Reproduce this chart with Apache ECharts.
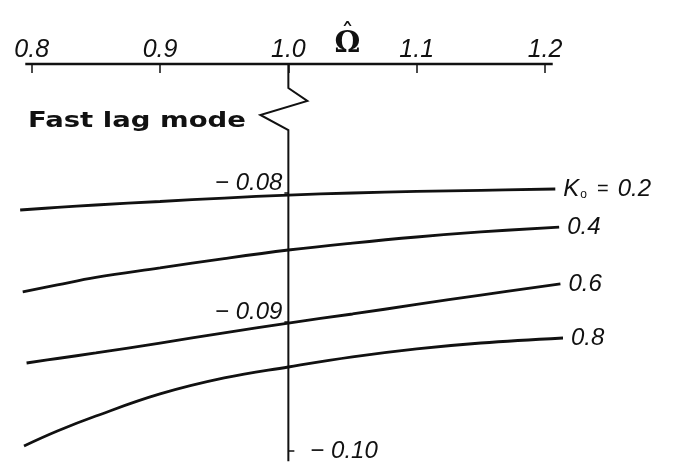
<!DOCTYPE html>
<html>
<head>
<meta charset="utf-8">
<script src="https://cdn.jsdelivr.net/npm/echarts@6/dist/echarts.min.js"></script>
<style>
  html, body { margin: 0; padding: 0; background: #fff; }
  #chart { width: 674px; height: 467px; }
</style>
</head>
<body>
<div id="chart"></div>
<script>
// Frequency ratio Ω̂ and fast lag mode damping for several K₀ values
const xTicks = [0.8, 0.9, 1.0, 1.1, 1.2];
const yTicksLeft = [-0.08, -0.09];
const yTicksRight = [-0.10];
const kLabels = ['0.2', '0.4', '0.6', '0.8'];

const omegaK02 = [0.791, 0.82, 0.85, 0.90, 0.95, 1.00, 1.05, 1.10, 1.15, 1.208];
const dampK02  = [-0.08132, -0.08112, -0.08093, -0.08066, -0.08039, -0.08016, -0.08000, -0.07988, -0.07979, -0.07969];

const omegaK04 = [0.793, 0.82, 0.85, 0.90, 0.95, 1.00, 1.05, 1.10, 1.15, 1.211];
const dampK04  = [-0.08767, -0.08713, -0.08655, -0.08581, -0.08508, -0.08442, -0.08388, -0.08341, -0.08302, -0.08264];

const omegaK06 = [0.796, 0.82, 0.85, 0.90, 0.95, 1.00, 1.05, 1.10, 1.15, 1.212];
const dampK06  = [-0.09318, -0.09283, -0.09240, -0.09163, -0.09085, -0.09008, -0.08938, -0.08864, -0.08791, -0.08705];

const omegaK08 = [0.794, 0.82, 0.85, 0.90, 0.95, 1.00, 1.05, 1.10, 1.15, 1.214];
const dampK08  = [-0.09961, -0.09845, -0.09729, -0.09558, -0.09434, -0.09349, -0.09271, -0.09209, -0.09163, -0.09124];

const curves = [
  [omegaK02, dampK02],
  [omegaK04, dampK04],
  [omegaK06, dampK06],
  [omegaK08, dampK08]
];

// plotting window is a little wider than the printed Ω̂ scale
const X_MIN = 0.785, X_MAX = 1.22, Y_MIN = -0.1008, Y_MAX = -0.07;
const SCALE_START = 0.795, SCALE_END = 1.206;
const GRID = { left: 12.45, right: 103.3, top: 64, bottom: 5.7 };
const gridWidth = 674 - GRID.left - GRID.right;
// the vertical axis sits at Ω̂ = 1.0
const yAxisOffset = -((1.0 - X_MIN) / (X_MAX - X_MIN)) * gridWidth;

const INK = '#111';
const numFont = 'Liberation Sans';
const minus = v => '\u2212 ' + Math.abs(v).toFixed(2);

const series = curves.map(([xs, ys], i) => ({
  type: 'line',
  name: kLabels[i],
  data: xs.map((x, j) => [x, ys[j]]),
  smooth: 0.4,
  showSymbol: false,
  symbol: 'none',
  silent: true,
  lineStyle: { color: INK, width: 2.8 },
  endLabel: {
    show: true,
    distance: 8,
    formatter: p => i === 0
      ? '{k|K}{o|o}{e|=}{t|' + kLabels[i] + '}'
      : '{t|' + kLabels[i] + '}',
    rich: {
      k: { fontFamily: numFont, fontStyle: 'italic', fontSize: 24, color: INK },
      o: { fontFamily: numFont, fontSize: 12, color: INK, padding: [12, 0, 0, 1] },
      e: { fontFamily: numFont, fontSize: 20, color: INK, padding: [0, 9, 0, 10] },
      t: { fontFamily: numFont, fontStyle: 'italic', fontSize: 24, color: INK }
    }
  }
}));

const chart = echarts.init(document.getElementById('chart'), null, { renderer: 'canvas' });

chart.setOption({
  animation: false,
  backgroundColor: '#fff',
  grid: GRID,
  xAxis: {
    type: 'value',
    position: 'top',
    min: X_MIN,
    max: X_MAX,
    axisLine: { show: false },
    axisTick: { show: true, inside: true, length: 9, customValues: xTicks, lineStyle: { color: INK, width: 1.5 } },
    axisLabel: {
      customValues: xTicks,
      margin: 1,
      fontFamily: numFont, fontStyle: 'italic', fontSize: 25, color: INK,
      formatter: v => v.toFixed(1)
    },
    splitLine: { show: false }
  },
  yAxis: [
    {
      type: 'value',
      position: 'left',
      offset: yAxisOffset,
      min: Y_MIN,
      max: Y_MAX,
      axisLine: { show: false },
      axisTick: { show: true, length: 4, customValues: yTicksLeft, lineStyle: { color: INK, width: 1.5 } },
      axisLabel: {
        customValues: yTicksLeft,
        margin: 6,
        verticalAlign: 'bottom',
        lineHeight: 20,
        fontFamily: numFont, fontStyle: 'italic', fontSize: 24, color: INK,
        formatter: v => minus(v)
      },
      splitLine: { show: false }
    },
    {
      type: 'value',
      position: 'left',
      offset: yAxisOffset,
      min: Y_MIN,
      max: Y_MAX,
      axisLine: { show: false },
      axisTick: { show: true, inside: true, length: 6, customValues: yTicksRight, lineStyle: { color: INK, width: 1.5 } },
      axisLabel: {
        customValues: yTicksRight,
        inside: true,
        margin: 22,
        fontFamily: numFont, fontStyle: 'italic', fontSize: 24, color: INK,
        formatter: v => minus(v)
      },
      splitLine: { show: false }
    }
  ],
  series: series
});

// Printed axes: Ω̂ scale along the top, vertical axis with a break mark
const axisX = chart.convertToPixel({ xAxisIndex: 0 }, 1.0);
const axisTop = chart.convertToPixel({ yAxisIndex: 0 }, Y_MAX);
const axisBottom = chart.convertToPixel({ yAxisIndex: 0 }, Y_MIN);
const scaleLeft = chart.convertToPixel({ xAxisIndex: 0 }, SCALE_START);
const scaleRight = chart.convertToPixel({ xAxisIndex: 0 }, SCALE_END);
const omegaX = chart.convertToPixel({ xAxisIndex: 0 }, 1.046);

chart.setOption({
  graphic: [
    {
      type: 'line',
      silent: true,
      shape: { x1: scaleLeft, y1: axisTop, x2: scaleRight, y2: axisTop },
      style: { stroke: INK, lineWidth: 2.4 }
    },
    {
      type: 'polyline',
      silent: true,
      shape: {
        points: [
          [axisX, axisTop], [axisX, axisTop + 24], [axisX + 19, axisTop + 37],
          [axisX - 28, axisTop + 51], [axisX, axisTop + 66], [axisX, axisBottom]
        ]
      },
      style: { stroke: INK, lineWidth: 2, fill: null, lineJoin: 'miter' }
    },
    {
      type: 'text',
      silent: true,
      x: 28,
      y: 121,
      scaleX: 1.25,
      style: {
        text: 'Fast lag mode',
        font: 'bold 22px "DejaVu Sans"',
        fill: INK,
        verticalAlign: 'middle',
        align: 'left'
      }
    },
    {
      type: 'text',
      silent: true,
      x: omegaX,
      y: axisTop - 5,
      style: {
        text: 'Ω',
        font: 'bold 29px "DejaVu Serif"',
        fill: INK,
        align: 'center',
        verticalAlign: 'bottom'
      }
    },
    {
      type: 'text',
      silent: true,
      x: omegaX,
      y: axisTop - 28,
      style: {
        text: '\u02C6',
        font: '26px "DejaVu Sans"',
        fill: INK,
        align: 'center',
        verticalAlign: 'middle'
      }
    }
  ]
});
</script>
</body>
</html>
